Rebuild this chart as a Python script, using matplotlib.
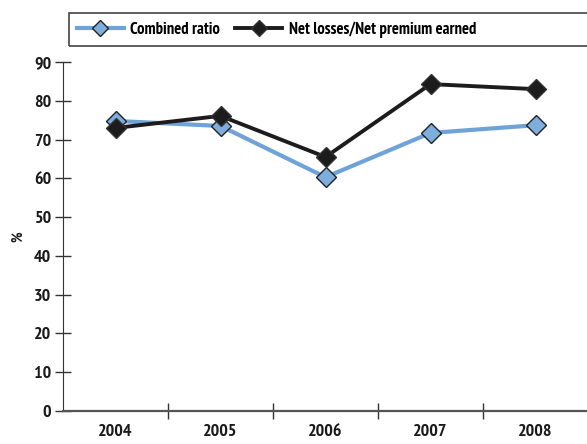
import matplotlib.pyplot as plt
from matplotlib.patches import Rectangle

years = ['2004', '2005', '2006', '2007', '2008']
combined_ratio = [74.8, 73.5, 60.3, 71.7, 73.7]
net_losses = [73.0, 76.1, 65.5, 84.3, 83.0]

plt.rcParams['font.family'] = ['PT Sans Narrow', 'DejaVu Sans']
plt.rcParams['font.weight'] = 'bold'

fig = plt.figure(figsize=(5.87, 4.44), dpi=100)
ax = fig.add_axes([63 / 587, 1 - 411 / 444, 525 / 587, 349 / 444])

x = range(len(years))
ax.plot(x, combined_ratio, color='#6fa3d8', lw=3, marker='D', ms=10,
        mfc='#7eaede', mec='#222222', mew=1, label='Combined ratio')
ax.plot(x, net_losses, color='#1c1c1c', lw=2.8, marker='D', ms=10,
        mfc='#1c1c1c', mec='#333333', mew=1,
        label='Net losses/Net premium earned')

ax.set_xlim(-0.5, 4.5)
ax.set_ylim(0, 90)
ax.set_yticks(range(0, 91, 10))

# boundaries between years get the tick marks, year labels sit in the middle
ax.set_xticks([i - 0.5 for i in range(1, 5)])
ax.set_xticklabels([])
ax.set_xticks(list(x), minor=True)
ax.set_xticklabels(years, minor=True)

ax.tick_params(axis='x', which='major', direction='inout', length=11,
               width=1, color='#333333')
ax.tick_params(axis='x', which='minor', length=0, pad=9, labelsize=13,
               labelcolor='#1a1a1a')
ax.tick_params(axis='y', direction='inout', length=11, width=1,
               color='#333333', pad=3, labelsize=13, labelcolor='#1a1a1a')

for side in ('top', 'right'):
    ax.spines[side].set_visible(False)
ax.spines['left'].set_color('#333333')
ax.spines['bottom'].set_color('#555555')
ax.spines['bottom'].set_linewidth(1.6)

fig.text(18 / 587, 1 - 237 / 444, '%', rotation=90, ha='center',
         va='center', fontsize=10.5, color='#1a1a1a')

# legend box runs off the right edge
fig.patches.append(Rectangle((69 / 587, 1 - 46 / 444), 0.95, 33 / 444,
                             transform=fig.transFigure, fill=False,
                             edgecolor='#444444', lw=1.2))
fig.legend(loc='center left', bbox_to_anchor=(77 / 587, 1 - 29.5 / 444),
           ncol=2, frameon=False, fontsize=12, handlelength=2.8,
           handletextpad=0.4, columnspacing=0.9, borderaxespad=0,
           borderpad=0, markerscale=0.85)

fig.savefig('out.png', dpi=100)
